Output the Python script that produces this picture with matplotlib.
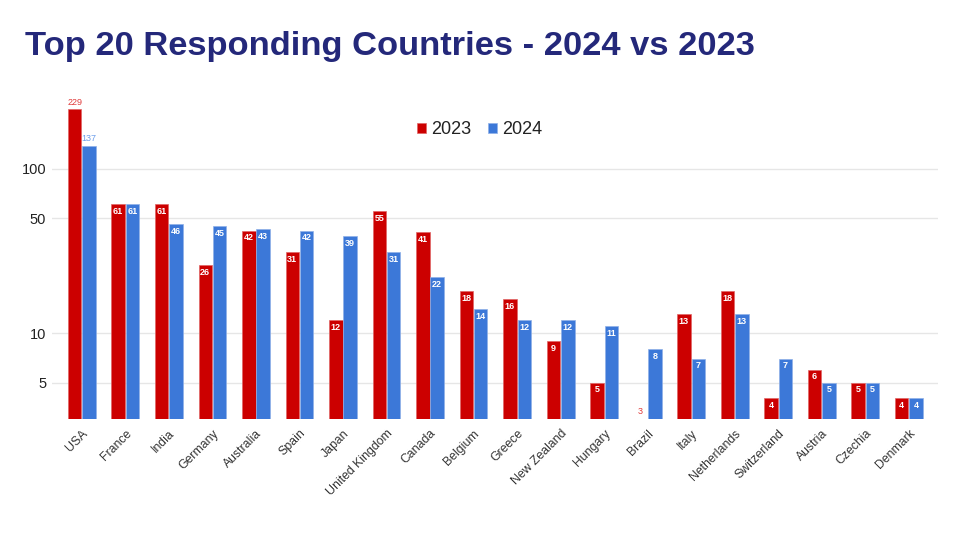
import numpy as np
import matplotlib
matplotlib.use("Agg")
import matplotlib.pyplot as plt
from matplotlib.ticker import FixedLocator, NullLocator

countries = ["USA", "France", "India", "Germany", "Australia", "Spain", "Japan",
             "United Kingdom", "Canada", "Belgium", "Greece", "New Zealand", "Hungary",
             "Brazil", "Italy", "Netherlands", "Switzerland", "Austria", "Czechia", "Denmark"]
v2023 = [229, 61, 61, 26, 42, 31, 12, 55, 41, 18, 16, 9, 5, 3, 13, 18, 4, 6, 5, 4]
v2024 = [137, 61, 46, 45, 43, 42, 39, 31, 22, 14, 12, 12, 11, 8, 7, 13, 7, 5, 5, 4]
yticks = [5, 10, 50, 100]

RED = "#cc0000"; BLUE = "#3c78d8"; NAVY = "#24287a"
YMIN, YMAX = 3, 300

plt.rcParams["font.family"] = ["Liberation Sans", "DejaVu Sans"]
fig = plt.figure(figsize=(9.6, 5.4), dpi=100)
ax = fig.add_axes([0.054, 0.224, 0.923, 0.609])

x = np.arange(len(countries))
w = 0.31
gap = 0.01
b1 = ax.bar(x - w / 2 - gap, np.array(v2023) - YMIN, w, bottom=YMIN, color=RED,
            edgecolor="#e06666", lw=0.5, label="2023", zorder=3)
b2 = ax.bar(x + w / 2 + gap, np.array(v2024) - YMIN, w, bottom=YMIN, color=BLUE,
            edgecolor="#8fb0e8", lw=0.5, label="2024", zorder=3)

ax.set_yscale("log")
ax.set_ylim(YMIN, YMAX)
ax.set_xlim(-0.69, 19.67)
ax.yaxis.set_major_locator(FixedLocator(yticks))
ax.yaxis.set_minor_locator(NullLocator())
ax.set_yticklabels([str(t) for t in yticks], fontsize=10.5, color="#222222")
ax.grid(True, axis="y", color="#e6e6e6", lw=1, zorder=0)
ax.set_xticks(x)
ax.set_xticklabels(countries, rotation=45, ha="right", rotation_mode="anchor",
                   fontsize=8.8, color="#333333")
ax.tick_params(length=0, pad=6)
ax.tick_params(axis="y", pad=4)
for s in ax.spines.values():
    s.set_visible(False)

def label(bars, vals, color):
    for b, v in zip(bars, vals):
        cx = b.get_x() + b.get_width() / 2
        if v >= 100:
            ax.text(cx, v * 1.04, str(v), ha="center", va="bottom", fontsize=6.5, color=color)
        elif v <= YMIN:
            ax.text(cx, YMIN * 1.05, str(v), ha="center", va="bottom", fontsize=6.5, color=color)
        else:
            ax.text(cx, v * 0.96, str(v), ha="center", va="top", fontsize=6.5,
                    color="white", fontweight="bold")

label(b1, v2023, "#e03c3c")
label(b2, v2024, "#6d9eeb")

leg = ax.legend(loc="upper center", bbox_to_anchor=(0.483, 0.955), ncol=2, frameon=False,
                fontsize=13, handlelength=0.5, handleheight=0.5, handletextpad=0.3,
                columnspacing=0.9)
for t in leg.get_texts():
    t.set_color("#222222")

fig.text(0.026, 0.898, "Top 20 Responding Countries - 2024 vs 2023", fontsize=24.8,
         fontweight="bold", color=NAVY, ha="left", va="baseline")

fig.savefig("out.png", dpi=100, facecolor="white")
